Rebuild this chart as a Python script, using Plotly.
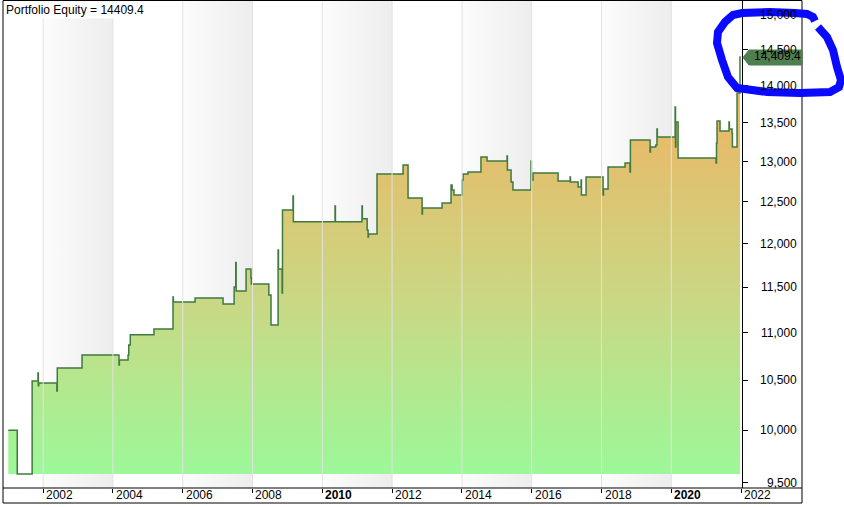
import math
import plotly.graph_objects as go

# ---------------- data ----------------
dates = [
    "2001-01-01", "2001-04-05", "2001-09-08", "2001-11-08", "2001-11-12", "2001-11-16",
    "2002-05-25", "2002-05-29", "2003-02-12", "2004-03-05", "2004-03-09", "2004-06-08",
    "2004-06-15", "2004-07-01", "2005-03-06", "2005-09-21", "2005-09-25", "2006-05-10",
    "2007-02-27", "2007-06-23", "2007-07-10", "2007-07-14", "2007-10-26", "2007-12-16",
    "2007-12-20", "2008-06-20", "2008-07-13", "2008-09-25", "2008-09-29", "2008-11-06",
    "2008-11-10", "2009-02-28", "2009-03-04", "2010-05-14", "2010-05-18", "2011-02-20",
    "2011-02-24", "2011-04-15", "2011-04-25", "2011-04-29", "2011-07-27", "2012-04-25",
    "2012-06-16", "2012-11-10", "2012-11-14", "2013-06-07", "2013-09-09", "2013-09-20",
    "2013-10-10", "2014-01-03", "2014-01-13", "2014-03-06", "2014-07-19", "2014-09-21",
    "2015-04-18", "2015-04-22", "2015-05-30", "2015-06-19", "2015-12-25", "2015-12-29",
    "2016-01-15", "2016-10-03", "2017-02-06", "2017-02-10", "2017-05-01", "2017-06-01",
    "2017-06-05", "2017-07-23", "2018-01-17", "2018-01-21", "2018-03-10", "2018-09-04",
    "2018-10-26", "2018-10-30", "2019-05-24", "2019-05-28", "2019-07-23", "2019-08-04",
    "2019-08-08", "2020-02-10", "2020-02-14", "2020-02-18", "2020-03-12", "2021-04-14",
    "2021-04-18", "2021-04-24", "2021-05-25", "2021-08-27", "2021-08-31", "2021-09-28",
    "2021-10-02", "2021-11-19", "2021-12-20",
]
equity = [
    10000, 9583, 10494, 10577, 10444, 10474,
    10392, 10628, 10763, 10660, 10712, 10763,
    10870, 10977, 11041, 11391, 11336, 11380,
    11313, 11502, 11780, 11457, 11706, 11604,
    11536, 11413, 11084, 11925, 11706, 11434,
    12400, 12570, 12257, 12449, 12257, 12449,
    12293, 12161, 12078, 12113, 12844, 12957,
    12546, 12352, 12424, 12485, 12707, 12645,
    12583, 12768, 12844, 12869, 13059, 13008,
    13072, 12894, 12744, 12645, 13008, 12768,
    12857, 12756, 12807, 12744, 12681, 12768,
    12583, 12807, 12583, 12657, 12931, 12982,
    12869, 13277, 13123, 13187, 13212, 13420,
    13316, 13711, 13187, 13512, 13045, 12982,
    13238, 13526, 13395, 13512, 13420, 13368,
    13187, 13900, 14409.4,
]
last_value = 14409.4
y_ticks = [9500, 10000, 10500, 11000, 11500, 12000, 12500, 13000, 13500, 14000, 14500, 15000]
x_tick_years = [2002, 2004, 2006, 2008, 2010, 2012, 2014, 2016, 2018, 2020, 2022]
bold_years = [2010, 2020]
band_start_years = [2002, 2006, 2010, 2014, 2018]

# ---------------- layout constants ----------------
W, H = 844, 507
ML, MR, MT, MB = 3, 102, 1, 19
PW, PH = W - ML - MR, H - MT - MB
Y_LO, Y_HI = 9453, 15206
X_LO, X_HI = "2000-11-07", "2022-01-10"
FONT = "Liberation Sans, Arial, sans-serif"


def pxx(x):
    return (x - ML) / PW


def pxy(y):
    return (H - MB - y) / PH


fig = go.Figure()

# alternating shaded background bands
for yr in band_start_years:
    x0, x1 = f"{yr}-01-01", f"{yr + 2}-01-01"
    fig.add_trace(go.Scatter(
        x=[x0, x1, x1, x0, x0], y=[Y_LO, Y_LO, Y_HI, Y_HI, Y_LO],
        mode="none", fill="toself",
        fillgradient=dict(type="horizontal",
                          colorscale=[[0, "#fcfcfc"], [1, "#ededed"]]),
        hoverinfo="skip", showlegend=False,
    ))

base = min(equity)
fig.add_trace(go.Scatter(
    x=[dates[0], dates[-1]], y=[base, base], mode="lines",
    line=dict(width=0, color="rgba(0,0,0,0)"), hoverinfo="skip", showlegend=False,
))
fig.add_trace(go.Scatter(
    x=dates, y=equity, mode="lines", line=dict(color="#3f7a3f", width=1.5, shape="hv"),
    fill="tonexty",
    fillgradient=dict(type="vertical", start=base, stop=13700,
                      colorscale=[[0, "#9cf899"], [0.45, "#c8d985"], [1, "#ebb766"]]),
    showlegend=False, name="Portfolio Equity",
))

shapes = []
# grid lines drawn over the area
for v in y_ticks:
    shapes.append(dict(type="line", xref="paper", yref="y", x0=0, x1=1,
                       y0=math.log10(v), y1=math.log10(v),
                       line=dict(color="#e2e2e2", width=1), layer="above"))
for yr in x_tick_years[:-1]:
    shapes.append(dict(type="line", xref="x", yref="paper", x0=f"{yr}-01-01", x1=f"{yr}-01-01",
                       y0=0, y1=1, line=dict(color="#e2e2e2", width=1), layer="above"))

# outer frame and axis line
shapes.append(dict(type="rect", xref="paper", yref="paper",
                   x0=pxx(3), x1=pxx(802), y0=pxy(503), y1=pxy(0.5),
                   line=dict(color="black", width=1), layer="above"))
shapes.append(dict(type="line", xref="paper", yref="paper",
                   x0=pxx(3), x1=pxx(802), y0=0, y1=0,
                   line=dict(color="black", width=1), layer="above"))

# last value marker (arrow box)
pts = [(743, 57.5), (749, 50), (802, 50), (802, 65), (749, 65)]
path = "M " + " L ".join(f"{pxx(a):.5f},{pxy(b):.5f}" for a, b in pts) + " Z"
shapes.append(dict(type="path", xref="paper", yref="paper", path=path,
                   fillcolor="#4f7f4f", line=dict(color="#4f7f4f", width=1), layer="above"))

# hand drawn blue circle
circle = [(818, 27), (827, 37), (833, 50), (837, 67), (841, 80), (839, 87), (830, 92),
          (800, 93), (767, 92), (737, 88), (728, 77), (722, 60), (717, 43), (718, 32),
          (725, 22), (733, 15), (742, 13), (770, 12), (795, 13), (807, 14), (813, 17), (815, 21)]
cpath = "M " + " L ".join(f"{pxx(a):.5f},{pxy(b):.5f}" for a, b in circle)
shapes.append(dict(type="path", xref="paper", yref="paper", path=cpath,
                   line=dict(color="#0a0aff", width=8), layer="above"))

annotations = []
for v in y_ticks:
    annotations.append(dict(x=pxx(799), xref="paper", y=math.log10(v), yref="y",
                            text=f"{v:,}", showarrow=False, xanchor="right", yanchor="middle",
                            font=dict(family=FONT, size=12, color="black")))
annotations.append(dict(x=pxx(803), xref="paper", y=math.log10(last_value), yref="y",
                        text=f"{last_value:,.1f}", showarrow=False, xanchor="right",
                        yanchor="middle", font=dict(family=FONT, size=12, color="black")))
annotations.append(dict(x=pxx(4), xref="paper", y=1, yref="paper", xanchor="left",
                        yanchor="top", text=f"Portfolio Equity = {last_value}",
                        showarrow=False, bgcolor="white", borderpad=1,
                        font=dict(family=FONT, size=12, color="black")))
# x tick labels, left aligned just right of each tick
for yr in x_tick_years:
    txt = f"<b>{yr}</b>" if yr in bold_years else str(yr)
    annotations.append(dict(x=f"{yr}-01-01", xref="x", y=pxy(495.5), yref="paper",
                            xanchor="left", yanchor="middle", xshift=1, text=txt,
                            showarrow=False, font=dict(family=FONT, size=12, color="black")))

fig.update_layout(
    width=W, height=H, margin=dict(l=ML, r=MR, t=MT, b=MB),
    paper_bgcolor="white", plot_bgcolor="white",
    shapes=shapes, annotations=annotations, showlegend=False,
    font=dict(family=FONT, size=12, color="black"),
    xaxis=dict(type="date", range=[X_LO, X_HI], showgrid=False, zeroline=False,
               tickvals=[f"{y}-01-01" for y in x_tick_years], showticklabels=False,
               ticks="outside", ticklen=4, tickcolor="black", showline=False),
    yaxis=dict(type="log", range=[math.log10(Y_LO), math.log10(Y_HI)], side="right",
               showgrid=False, zeroline=False, tickvals=y_ticks, showticklabels=False,
               ticks="outside", ticklen=5, tickcolor="black",
               showline=True, linecolor="black", linewidth=1),
)

fig.write_html("out.html", config={"displayModeBar": False},
               post_script="document.body.style.margin='0';")
